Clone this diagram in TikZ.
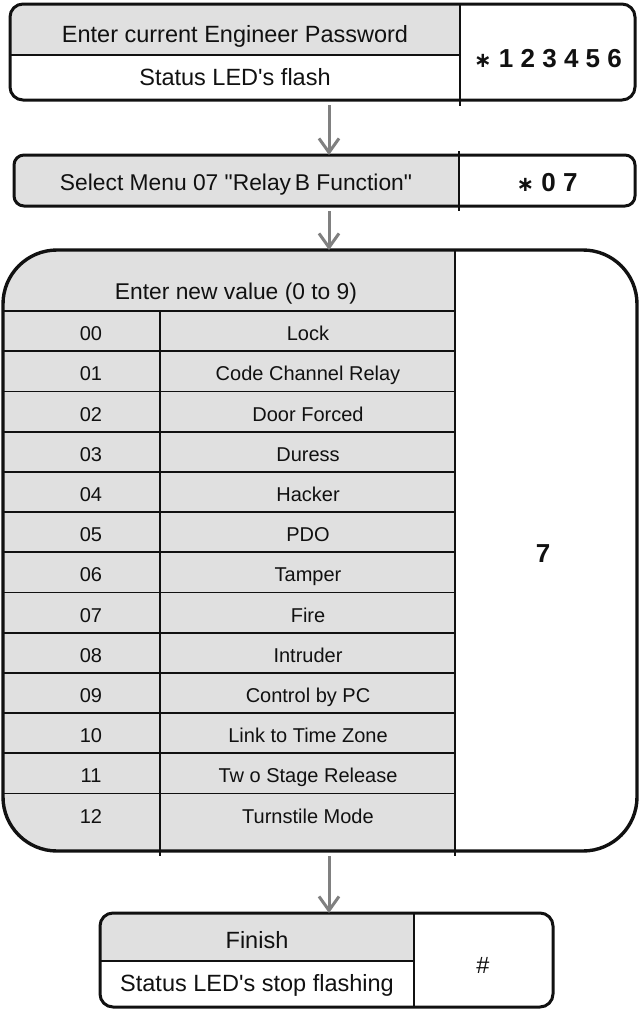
\documentclass[tikz,border=0pt]{standalone}
\usepackage{fontspec}
\setmainfont{Liberation Sans}[Ligatures=TeXOff]
\newfontfamily\djv{DejaVu Sans}
\usetikzlibrary{arrows.meta}
\definecolor{cellgray}{HTML}{E0E0E0}
\definecolor{arrowgray}{HTML}{808080}
\definecolor{ink}{HTML}{111111}
\newcommand{\bigast}{\raisebox{0pt}{\djv\bfseries\fontsize{21}{21}\selectfont ∗}}
\begin{document}
\begin{tikzpicture}[x=1pt,y=-1pt,
  boxline/.style={line width=3pt, draw=ink},
  thinline/.style={line width=1.2pt, draw=ink},
  rowline/.style={line width=1.8pt, draw=ink},
  flowarrow/.style={draw=arrowgray, line width=3pt, shorten <=5pt,
    -{Straight Barb[length=14pt,width=20pt,line width=3pt]}},
  boxtext/.style={font=\fontsize{23.5}{28}\selectfont, text=ink, inner sep=0pt, text height=16.8pt, text depth=0pt},
  hdtext/.style={font=\fontsize{22.8}{27}\selectfont, text=ink, inner sep=0pt, text height=16.3pt, text depth=0pt},
  rowtext/.style={font=\fontsize{20}{24}\selectfont, text=ink, inner sep=0pt, text height=14.3pt, text depth=0pt},
  codetext/.style={font=\fontsize{26}{30}\selectfont\bfseries, text=ink, inner sep=0pt, text height=18.6pt, text depth=0pt},
]
\useasboundingbox (0,0) rectangle (638,1010);

% ---------- Box 1 ----------
\begin{scope}
  \clip[rounded corners=13pt] (10,4) rectangle (635,100);
  \fill[cellgray] (10,4) rectangle (460,55);
  \fill[white] (10,55) rectangle (460,100);
  \fill[white] (460,4) rectangle (635,100);
\end{scope}
\draw[thinline] (10,55) -- (460,55);
\draw[thinline] (460,4) -- (460,106);
\draw[boxline, rounded corners=13pt] (10,4) rectangle (635,100);
\node[boxtext] (b1a) at (235,34) {Enter current Engineer Password};
\node[boxtext] (b1b) at (235,77) {Status LED's flash};
\node[codetext] (b1c) at (548,58) {\bigast{} 1 2 3 4 5 6};
\coordinate (b1s) at (329,100);

% ---------- Box 2 ----------
\begin{scope}
  \clip[rounded corners=10pt] (14,155) rectangle (635,206);
  \fill[cellgray] (14,155) rectangle (459,206);
  \fill[white] (459,155) rectangle (635,206);
\end{scope}
\draw[thinline] (459,151) -- (459,211);
\draw[boxline, rounded corners=10pt] (14,155) rectangle (635,206);
\node[hdtext] (b2a) at (236,182) {Select Menu 07 "Relay\,B Function"};
\node[codetext] (b2c) at (547,182) {\bigast{} 0 7};
\coordinate (b2n) at (329,155);
\coordinate (b2s) at (329,206);

% ---------- Box 3 ----------
\begin{scope}
  \clip[rounded corners=54pt] (3,250) rectangle (637,851);
  \fill[cellgray] (0,245) rectangle (455,860);
  \fill[white] (455,245) rectangle (640,860);
\end{scope}
\foreach \k in {0,...,12}{
  \draw[rowline] (3,{311+40.2*\k}) -- (455,{311+40.2*\k});
}
\draw[rowline] (160,311) -- (160,856);
\draw[thinline] (455,250) -- (455,856);
\draw[boxline, line width=3.4pt, rounded corners=54pt] (3,250) rectangle (637,851);
\node[hdtext] (hd) at (236,291) {Enter new value (0 to 9)};
\foreach \n/\t [count=\i from 0] in {00/Lock,01/Code Channel Relay,02/Door Forced,03/Duress,04/Hacker,05/PDO,06/Tamper,07/Fire,08/Intruder,09/Control by PC,10/Link to Time Zone,11/Tw o Stage Release,12/Turnstile Mode}{
  \node[rowtext] (num\i) at (91,{333.5+40.2*\i}) {\n};
  \node[rowtext] (lab\i) at (308,{333.5+40.2*\i}) {\t};
}
\node[codetext] (b3c) at (543,553) {7};
\coordinate (b3n) at (329,250);
\coordinate (b3s) at (329,851);

% ---------- Box 4 ----------
\begin{scope}
  \clip[rounded corners=13pt] (100,913) rectangle (553,1007);
  \fill[cellgray] (100,913) rectangle (414,961);
  \fill[white] (100,961) rectangle (414,1007);
  \fill[white] (414,913) rectangle (553,1007);
\end{scope}
\draw[thinline] (100,961) -- (414,961);
\draw[thinline] (414,913) -- (414,1007);
\draw[boxline, rounded corners=13pt] (100,913) rectangle (553,1007);
\node[boxtext] (b4a) at (257,940) {Finish};
\node[boxtext] (b4b) at (257,983) {Status LED's stop flashing};
\node[boxtext] (b4c) at (483,965) {\#};
\coordinate (b4n) at (329,913);

% ---------- Arrows ----------
\draw[flowarrow] (b1s) -- (b2n);
\draw[flowarrow] (b2s) -- (b3n);
\draw[flowarrow] (b3s) -- (b4n);
\end{tikzpicture}
\end{document}
